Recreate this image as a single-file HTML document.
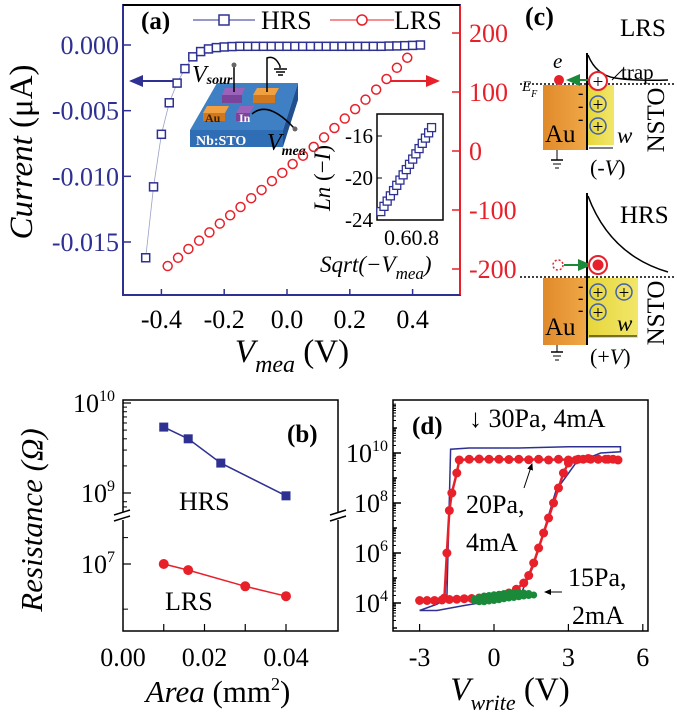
<!DOCTYPE html>
<html><head><meta charset="utf-8"><style>
html,body{margin:0;padding:0;background:#fff;width:677px;height:720px;overflow:hidden}
svg{display:block}
text{font-family:"Liberation Serif",serif}
</style></head><body>
<svg id="fig" width="677" height="720" viewBox="0 0 677 720" xmlns="http://www.w3.org/2000/svg">
<defs>
<linearGradient id="auG" x1="0" x2="1"><stop offset="0" stop-color="#e08a2a"/><stop offset="1" stop-color="#f0a848"/></linearGradient>
<linearGradient id="ylG" x1="0" x2="1"><stop offset="0" stop-color="#e6d63a"/><stop offset="1" stop-color="#f2e66a"/></linearGradient>
<marker id="ahB" markerWidth="8" markerHeight="8" refX="6" refY="4" orient="auto"><path d="M0,1 L7,4 L0,7 z" fill="#2e3192"/></marker>
<marker id="ahR" markerWidth="8" markerHeight="8" refX="6" refY="4" orient="auto"><path d="M0,1 L7,4 L0,7 z" fill="#e8202a"/></marker>
<marker id="ahG" markerWidth="8" markerHeight="8" refX="6" refY="4" orient="auto"><path d="M0,1 L7,4 L0,7 z" fill="#1a8a3a"/></marker>
<marker id="ahK" markerWidth="8" markerHeight="8" refX="6" refY="4" orient="auto"><path d="M0,1 L7,4 L0,7 z" fill="#000"/></marker>
</defs>

<g>
<rect x="123" y="5" width="337" height="290" fill="none" stroke="#2e3192" stroke-width="2"/>
<line x1="460" y1="5" x2="460" y2="295" stroke="#e8202a" stroke-width="2"/>
<line x1="123" y1="5" x2="460" y2="5" stroke="#000" stroke-width="2"/>
<line x1="123" y1="295" x2="460" y2="295" stroke="#2e3192" stroke-width="2"/>
<text x="141" y="29" font-size="25" font-weight="bold">(a)</text>
<g>
<line x1="193" y1="20" x2="255" y2="20" stroke="#2e3192" stroke-width="1"/>
<rect x="219" y="15" width="10" height="10" fill="#fff" stroke="#2e3192" stroke-width="1.5"/>
<text x="261" y="29" font-size="26">HRS</text></g>
<g>
<line x1="330" y1="20" x2="394" y2="20" stroke="#e8202a" stroke-width="1"/>
<circle cx="362" cy="20" r="5" fill="#fff" stroke="#e8202a" stroke-width="1.5"/>
<text x="394" y="29" font-size="26">LRS</text></g>
<line x1="175" y1="81" x2="131" y2="81" stroke="#2e3192" stroke-width="2" marker-end="url(#ahB)"/>
<line x1="390" y1="81" x2="438" y2="81" stroke="#e8202a" stroke-width="2" marker-end="url(#ahR)"/>
<text transform="translate(32,152) rotate(-90)" text-anchor="middle" font-size="33"><tspan font-style="italic">Current</tspan> (μA)</text>
<text x="292" y="362" text-anchor="middle" font-size="33"><tspan font-style="italic">V</tspan><tspan font-style="italic" font-size="24" dy="10">mea</tspan><tspan dy="-10"> (V)</tspan></text>
<g>
<polygon points="190,130 217,83 298,83 283,130" fill="#3f7fc4"/>
<polygon points="190,130 283,130 283,147 190,147" fill="#2f6eb5"/>
<polygon points="283,130 298,83 298,100 283,147" fill="#1f4f8f"/>
<polygon points="222,95 242,95 245,88 225,88" fill="#9a62b8"/><rect x="222" y="95" width="20" height="8" fill="#7a449a"/>
<polygon points="253,95 275,95 279,88 257,88" fill="#f0a040"/><rect x="253" y="95" width="22" height="8" fill="#d07820"/>
<polygon points="203,113 225,113 229,106 207,106" fill="#f0a040"/><rect x="203" y="113" width="22" height="8" fill="#d07820"/>
<polygon points="236,113 250,113 254,106 240,106" fill="#9a62b8"/><rect x="236" y="113" width="14" height="8" fill="#7a449a"/>
<text x="205" y="122" font-size="12" font-weight="bold" fill="#3a2000">Au</text>
<text x="239" y="122" font-size="12" font-weight="bold" fill="#fff">In</text>
<text x="196" y="145" font-size="14" font-weight="bold" fill="#fff">Nb:STO</text>
<line x1="234" y1="66" x2="234" y2="92" stroke="#000" stroke-width="1.5"/><circle cx="234" cy="65" r="2.5" fill="#666"/>
<path d="M267,92 L267,58 Q275,55 280,66 L280,68" fill="none" stroke="#000" stroke-width="1.5"/>
<line x1="274" y1="69" x2="287" y2="69" stroke="#000" stroke-width="1.5"/><line x1="276" y1="72" x2="285" y2="72" stroke="#000" stroke-width="1.5"/><line x1="278" y1="75" x2="283" y2="75" stroke="#000" stroke-width="1.5"/>
<path d="M252,114 Q268,100 294,128" fill="none" stroke="#000" stroke-width="1.5"/><circle cx="295" cy="129" r="2.5" fill="#666"/>
<text x="192" y="82" font-size="24" font-style="italic">V<tspan font-size="14" dy="2" font-weight="bold">sour</tspan></text>
<text x="267" y="150" font-size="24" font-style="italic">V<tspan font-size="14" dy="5" font-weight="bold">mea</tspan></text>
</g>
<rect x="377" y="114" width="66" height="106" fill="#fff" stroke="#000" stroke-width="1.5"/>
<g id="insetG"></g>
<text transform="translate(330,178) rotate(-90)" text-anchor="middle" font-size="23"><tspan font-style="italic">Ln</tspan> (−<tspan font-style="italic">I</tspan>)</text>
<text x="384" y="245" font-size="22">0.60.8</text>
<text x="320" y="272" font-size="23" font-style="italic">Sqrt(−V<tspan font-size="17" dy="7">mea</tspan><tspan dy="-7">)</tspan></text>
<g id="aG"></g>
</g>

<g>
<rect x="123" y="400" width="215" height="231" fill="none" stroke="#000" stroke-width="1.5"/>
<rect x="118" y="512" width="10" height="8" fill="#fff"/><rect x="333" y="512" width="10" height="8" fill="#fff"/>
<line x1="114" y1="515" x2="130" y2="510" stroke="#000" stroke-width="1.5"/>
<line x1="114" y1="521" x2="130" y2="516" stroke="#000" stroke-width="1.5"/>
<line x1="330" y1="515" x2="346" y2="510" stroke="#000" stroke-width="1.5"/>
<line x1="330" y1="521" x2="346" y2="516" stroke="#000" stroke-width="1.5"/>
<text x="287" y="442" font-size="25" font-weight="bold">(b)</text>
<text x="179" y="510" font-size="26">HRS</text>
<text x="165" y="610" font-size="26">LRS</text>
<text transform="translate(42,520) rotate(-90)" text-anchor="middle" font-size="31" font-style="italic">Resistance (Ω)</text>
<text x="218" y="702" text-anchor="middle" font-size="31"><tspan font-style="italic">Area</tspan> (mm<tspan font-size="18" dy="-12">2</tspan><tspan dy="12">)</tspan></text>
<g id="bG"></g>
</g>

<g>
<rect x="393" y="400" width="255" height="231" fill="none" stroke="#000" stroke-width="1.5"/>
<text x="412" y="434" font-size="25" font-weight="bold">(d)</text>
<text x="469" y="427" font-size="26">↓ 30Pa, 4mA</text>
<text x="466" y="513" font-size="26">20Pa,</text>
<text x="466" y="551" font-size="26">4mA</text>
<line x1="524" y1="488" x2="532" y2="464" stroke="#000" stroke-width="1" marker-end="url(#ahK)"/>
<text x="568" y="586" font-size="26">15Pa,</text>
<text x="572" y="624" font-size="26">2mA</text>
<line x1="562" y1="592" x2="545" y2="592" stroke="#000" stroke-width="1" marker-end="url(#ahK)"/>
<text x="510" y="700" text-anchor="middle" font-size="33"><tspan font-style="italic">V</tspan><tspan font-style="italic" font-size="22" dy="10">write</tspan><tspan dy="-10"> (V)</tspan></text>
<g id="dG"></g>
</g>

<g>
<text x="525" y="25" font-size="26" font-weight="bold">(c)</text>
<text x="620" y="36" font-size="25">LRS</text>
<text x="621" y="79" font-size="21">trap</text>
<line x1="612" y1="80" x2="622" y2="70" stroke="#000" stroke-width="1"/>
<rect x="543" y="85" width="44" height="65" fill="url(#auG)"/>
<rect x="587" y="85" width="27" height="60" fill="url(#ylG)"/>
<line x1="587" y1="53" x2="587" y2="150" stroke="#000" stroke-width="2"/>
<path d="M588,55 Q596,75 615,78 T668,80" fill="none" stroke="#000" stroke-width="1.5"/>
<line x1="520" y1="84" x2="674" y2="84" stroke="#000" stroke-width="1.5" stroke-dasharray="2,2"/>
<text x="522" y="91" font-size="15" font-style="italic">E<tspan font-size="10" dy="6">F</tspan></text>
<text x="553" y="68" font-size="21" font-style="italic">e</text>
<circle cx="559" cy="80" r="5" fill="#e8202a"/>
<line x1="590" y1="80" x2="568" y2="80" stroke="#1a8a3a" stroke-width="2" marker-end="url(#ahG)"/>
<circle cx="598" cy="81" r="9" fill="#fff" stroke="#e8202a" stroke-width="2"/><text x="598" y="88" text-anchor="middle" font-size="19">+</text>
<circle cx="598" cy="104" r="8" fill="none" stroke="#4060b0" stroke-width="1.5"/><text x="598" y="111" text-anchor="middle" font-size="19">+</text>
<circle cx="598" cy="126" r="8" fill="none" stroke="#4060b0" stroke-width="1.5"/><text x="598" y="133" text-anchor="middle" font-size="19">+</text>
<text x="578" y="98" font-size="16" font-weight="bold">-</text><text x="578" y="111" font-size="16" font-weight="bold">-</text><text x="578" y="124" font-size="16" font-weight="bold">-</text>
<text x="545" y="142" font-size="25">Au</text>
<text x="617" y="143" font-size="23" font-style="italic">w</text>
<line x1="589" y1="148" x2="613" y2="148" stroke="#000" stroke-width="1"/>
<text x="590" y="175" font-size="22">(-<tspan font-style="italic">V</tspan>)</text>
<text transform="translate(664,120) rotate(-90)" text-anchor="middle" font-size="25">NSTO</text>
<line x1="557" y1="150" x2="557" y2="160" stroke="#000"/><line x1="551" y1="160" x2="563" y2="160" stroke="#000" stroke-width="1.5"/><line x1="553" y1="164" x2="561" y2="164" stroke="#000"/><line x1="555" y1="168" x2="559" y2="168" stroke="#000"/>

<text x="620" y="223" font-size="25">HRS</text>
<rect x="543" y="278" width="44" height="67" fill="url(#auG)"/>
<rect x="587" y="278" width="51" height="60" fill="url(#ylG)"/>
<line x1="587" y1="193" x2="587" y2="345" stroke="#000" stroke-width="2"/>
<path d="M588,196 Q610,255 668,272" fill="none" stroke="#000" stroke-width="1.5"/>
<line x1="520" y1="277" x2="674" y2="277" stroke="#000" stroke-width="1.5" stroke-dasharray="2,2"/>
<circle cx="558" cy="265" r="5" fill="none" stroke="#e8202a" stroke-width="1.5" stroke-dasharray="2,2"/>
<line x1="564" y1="265" x2="590" y2="265" stroke="#1a8a3a" stroke-width="2" marker-end="url(#ahG)"/>
<circle cx="598" cy="265" r="9" fill="#fff" stroke="#e8202a" stroke-width="2"/><circle cx="598" cy="265" r="5.5" fill="#e8202a"/>
<circle cx="598" cy="292" r="8" fill="none" stroke="#4060b0" stroke-width="1.5"/><text x="598" y="299" text-anchor="middle" font-size="19">+</text>
<circle cx="624" cy="292" r="8" fill="none" stroke="#4060b0" stroke-width="1.5"/><text x="624" y="299" text-anchor="middle" font-size="19">+</text>
<circle cx="598" cy="312" r="8" fill="none" stroke="#4060b0" stroke-width="1.5"/><text x="598" y="319" text-anchor="middle" font-size="19">+</text>
<text x="578" y="291" font-size="16" font-weight="bold">-</text><text x="578" y="303" font-size="16" font-weight="bold">-</text><text x="578" y="315" font-size="16" font-weight="bold">-</text>
<text x="545" y="335" font-size="25">Au</text>
<text x="617" y="331" font-size="23" font-style="italic">w</text>
<line x1="589" y1="336" x2="637" y2="336" stroke="#000" stroke-width="1"/>
<text x="590" y="364" font-size="22">(+<tspan font-style="italic">V</tspan>)</text>
<text transform="translate(664,313) rotate(-90)" text-anchor="middle" font-size="25">NSTO</text>
<line x1="557" y1="345" x2="557" y2="352" stroke="#000"/><line x1="551" y1="352" x2="563" y2="352" stroke="#000" stroke-width="1.5"/><line x1="553" y1="356" x2="561" y2="356" stroke="#000"/><line x1="555" y1="360" x2="559" y2="360" stroke="#000"/>
</g>
</svg>
<script>
const aHrsX = [-0.45,-0.425,-0.40,-0.375,-0.35,-0.325,-0.30,-0.275,-0.25,-0.225,-0.20,-0.175,-0.15,-0.125,-0.10,-0.075,-0.05,-0.025,0,0.025,0.05,0.075,0.10,0.125,0.15,0.175,0.20,0.225,0.25,0.275,0.30,0.325,0.35,0.375,0.40,0.425];
const aHrsY = [-0.0162,-0.0108,-0.0068,-0.0044,-0.0029,-0.0018,-0.0009,-0.0005,-0.0003,-0.0002,-0.00015,-0.00012,-0.0001,-0.0001,-0.0001,-0.0001,-0.0001,-0.0001,-0.0001,-0.0001,-0.0001,-0.0001,-0.0001,-0.0001,-0.0001,-0.0001,-0.0001,-0.0001,-0.0001,-0.0001,-0.0001,-0.00008,-0.00007,-0.00005,-0.00003,0.0];
const aLrsX = [-0.38,-0.347,-0.314,-0.28,-0.247,-0.214,-0.181,-0.148,-0.114,-0.081,-0.048,-0.015,0.018,0.051,0.085,0.118,0.151,0.184,0.217,0.25,0.284,0.317,0.35,0.383];
const aLrsY = [-195,-181,-166,-152,-138,-123,-109,-95,-80,-66,-51,-37,-22,-8,7,23,39,55,71,87,104,122,141,158];
const aXTicks = [-0.4,-0.2,0.0,0.2,0.4];
const aXLabels = ["-0.4","-0.2","0.0","0.2","0.4"];
const aYLTicks = [0,-0.005,-0.010,-0.015];
const aYLLabels = ["0.000","-0.005","-0.010","-0.015"];
const aYRTicks = [200,100,0,-100,-200];
const aYRLabels = ["200","100","0","-100","-200"];
const insetX = [0.44,0.462,0.484,0.506,0.528,0.55,0.572,0.594,0.616,0.638,0.66,0.682,0.704,0.726,0.748,0.77,0.79];
const insetY = [-23.2,-22.7,-22.2,-21.7,-21.2,-20.7,-20.2,-19.7,-19.2,-18.7,-18.2,-17.7,-17.2,-16.7,-16.2,-15.7,-15.2];
const insetYTicks = [-16,-20,-24];
const insetYLabels = ["-16","-20","-24"];
const bHrsX = [0.01,0.016,0.024,0.04];
const bHrsY = [5.4e9,4.0e9,2.15e9,9.3e8];
const bLrsX = [0.01,0.016,0.03,0.04];
const bLrsY = [1.0e7,9.1e6,7.1e6,6.1e6];
const bXTicks = [0.00,0.02,0.04];
const bXLabels = ["0.00","0.02","0.04"];
const dBlueX = [-3,-2.3,-1.9,-1.75,-1.0,1.0,3.0,5.1,5.1,4.3,3.3,2.5,2.2,1.6,1.1,0.0,-1.2,-2.3,-3];
const dBlueY = [3.7,3.95,4.2,10.15,10.2,10.2,10.25,10.25,10.05,10.0,9.6,8.5,7.5,5.5,4.4,4.1,3.9,3.7,3.7];
const dRedX = [-3,-2.7,-2.4,-2.1,-1.8,-1.5,-1.2,-0.9,-0.6,-0.3,0,0.3,0.6,0.9,1.2,1.4,1.6,1.8,2.0,2.2,2.4,2.6,2.8,3.0,3.3,3.6,3.9,4.2,4.5,4.8,5.0,4.6,4.2,3.8,3.4,3.0,2.6,2.2,1.8,1.4,1.0,0.6,0.2,-0.2,-0.6,-1.0,-1.4,-1.5,-1.7,-1.8,-1.9,-2.0];
const dRedY = [4.1,4.1,4.1,4.12,4.14,4.15,4.17,4.18,4.2,4.22,4.25,4.3,4.4,4.55,4.8,5.1,5.6,6.2,6.8,7.4,8.0,8.6,9.2,9.6,9.72,9.75,9.75,9.75,9.75,9.75,9.72,9.75,9.75,9.78,9.75,9.72,9.75,9.72,9.75,9.73,9.75,9.74,9.75,9.75,9.76,9.75,9.72,9.2,8.4,7.7,6.0,4.2];
const dGreenX = [-0.8,-0.6,-0.4,-0.2,0,0.2,0.4,0.6,0.8,1.0,1.2,1.4,1.6,1.4,1.2,1.0,0.8,0.6,0.4,0.2,0,-0.2,-0.4,-0.6,-0.8];
const dGreenY = [4.1,4.05,4.05,4.08,4.1,4.13,4.17,4.2,4.22,4.25,4.28,4.3,4.32,4.38,4.4,4.42,4.42,4.4,4.38,4.35,4.33,4.3,4.28,4.22,4.15];
const dXTicks = [-3,0,3,6];
const dXLabels = ["-3","0","3","6"];
const dYTicks = [10,8,6,4];

const NS="http://www.w3.org/2000/svg";
function mk(tag,parent){const e=document.createElementNS(NS,tag);parent.appendChild(e);return e;}
function sa(e,o){for(const k in o)e.setAttribute(k,o[k]);return e;}
const BLUE="#2e3192",RED="#e8202a",GREEN="#1a8a3a";
const TF=26;

const axA = v=>287+v*314;
const ayL = v=>45+(-v)*13133;
const ayR = v=>151-v*0.59;
const ixS = v=>404+(v-0.6)*145;
const iyS = v=>136-(v+16)*10.5;
const bx = v=>123+v*4075;
const byH = v=>403+(10-Math.log10(v))*90;
const byL = v=>564+(7-Math.log10(v))*150;
const dx = v=>494+v*24.8;
const dy = v=>603-(v-4)*25;

const aG=document.getElementById('aG');
aXTicks.forEach((t,i)=>{
  const l=mk('line',aG);sa(l,{x1:axA(t),x2:axA(t),y1:295,y2:289,stroke:BLUE,'stroke-width':1.5});
  
  
  const tx=mk('text',aG);sa(tx,{x:axA(t),y:328,'text-anchor':'middle','font-size':TF});tx.textContent=aXLabels[i];
  
  
});
aYLTicks.forEach((t,i)=>{
  const l=mk('line',aG);sa(l,{x1:123,x2:131,y1:ayL(t),y2:ayL(t),stroke:BLUE,'stroke-width':1.5});
  
  
  const tx=mk('text',aG);sa(tx,{x:119,y:ayL(t)+9,'text-anchor':'end','font-size':TF,fill:BLUE});tx.textContent=aYLLabels[i];
  
  
});
aYRTicks.forEach((t,i)=>{
  const l=mk('line',aG);sa(l,{x1:460,x2:452,y1:ayR(t),y2:ayR(t),stroke:RED,'stroke-width':1.5});
  
  
  const tx=mk('text',aG);sa(tx,{x:469,y:ayR(t)+9,'font-size':TF,fill:RED});tx.textContent=aYRLabels[i];
  
  
});
{const p=mk('polyline',aG);sa(p,{points:aHrsX.map((x,i)=>axA(x)+','+ayL(aHrsY[i])).join(' '),fill:'none',stroke:'#9aa0c8','stroke-width':0.8});

}
aHrsX.forEach((x,i)=>{
  const r=mk('rect',aG);sa(r,{x:axA(x)-4,y:ayL(aHrsY[i])-4,width:8,height:8,fill:'#fff',stroke:BLUE,'stroke-width':1.5});
  
  
});
aLrsX.forEach((x,i)=>{
  const c=mk('circle',aG);sa(c,{cx:axA(x),cy:ayR(aLrsY[i]),r:4.5,fill:'none',stroke:RED,'stroke-width':1.5});
  
  
});
const iG=document.getElementById('insetG');
insetYTicks.forEach((t,i)=>{
  const l=mk('line',iG);sa(l,{x1:377,x2:382,y1:iyS(t),y2:iyS(t),stroke:'#000'});
  
  
  const tx=mk('text',iG);sa(tx,{x:373,y:iyS(t)+7,'text-anchor':'end','font-size':21});tx.textContent=insetYLabels[i];
  
  
});
insetX.forEach((x,i)=>{
  const r=mk('rect',iG);sa(r,{x:ixS(x)-4,y:iyS(insetY[i])-4,width:8,height:8,fill:'#fff',stroke:BLUE,'stroke-width':1.3});
  
  
});

const bG=document.getElementById('bG');
bXTicks.forEach((t,i)=>{
  const tx=mk('text',bG);sa(tx,{x:bx(t),y:666,'text-anchor':'middle','font-size':TF});tx.textContent=bXLabels[i];
  
  
});
[0.01,0.02,0.03,0.04].forEach(t=>{
  const l=mk('line',bG);sa(l,{x1:bx(t),x2:bx(t),y1:631,y2:624,stroke:'#000','stroke-width':1.2});
  
  
});
[1e10,1e9].forEach((t,i)=>{
  const y=byH(t);const l=mk('line',bG);sa(l,{x1:123,x2:131,y1:y,y2:y,stroke:'#000','stroke-width':1.2});
  
  
  const tx=mk('text',bG);sa(tx,{x:115,y:y+9,'text-anchor':'end','font-size':TF});tx.innerHTML=(i==0?'10<tspan font-size="16" dy="-11">10</tspan>':'10<tspan font-size="16" dy="-11">9</tspan>');
  
  
});
[2e9,3e9,4e9,5e9,6e9,7e9,8e9,9e9,8e8,7e8].forEach(t=>{
  const y=byH(t);const l=mk('line',bG);sa(l,{x1:123,x2:127,y1:y,y2:y,stroke:'#000'});
  
  
});
{const y=byL(1e7);const l=mk('line',bG);sa(l,{x1:123,x2:131,y1:y,y2:y,stroke:'#000','stroke-width':1.2});


const tx=mk('text',bG);sa(tx,{x:115,y:y+9,'text-anchor':'end','font-size':TF});tx.innerHTML='10<tspan font-size="16" dy="-11">7</tspan>';

}
[1.5e7,5e6].forEach(t=>{const y=byL(t);const l=mk('line',bG);sa(l,{x1:123,x2:128,y1:y,y2:y,stroke:'#000'});

});
{const p=mk('polyline',bG);sa(p,{points:bHrsX.map((x,i)=>bx(x)+','+byH(bHrsY[i])).join(' '),fill:'none',stroke:BLUE,'stroke-width':1.5});

}
bHrsX.forEach((x,i)=>{const r=mk('rect',bG);sa(r,{x:bx(x)-4.5,y:byH(bHrsY[i])-4.5,width:9,height:9,fill:BLUE});

});
{const p=mk('polyline',bG);sa(p,{points:bLrsX.map((x,i)=>bx(x)+','+byL(bLrsY[i])).join(' '),fill:'none',stroke:RED,'stroke-width':1.5});

}
bLrsX.forEach((x,i)=>{const c=mk('circle',bG);sa(c,{cx:bx(x),cy:byL(bLrsY[i]),r:5,fill:RED});

});

const dG=document.getElementById('dG');
dXTicks.forEach((t,i)=>{
  const l=mk('line',dG);sa(l,{x1:dx(t),x2:dx(t),y1:631,y2:624,stroke:'#000','stroke-width':1.2});
  
  
  const tx=mk('text',dG);sa(tx,{x:dx(t),y:666,'text-anchor':'middle','font-size':TF});tx.textContent=dXLabels[i];
  
  
});
for(let e=3;e<=11;e++){
  const y=dy(e);if(y<402||y>629)continue;
  const l=mk('line',dG);sa(l,{x1:393,x2:(e%2==0?401:397),y1:y,y2:y,stroke:'#000','stroke-width':1.5});
  
  
  for(let m=2;m<10;m++){const ym=dy(e+Math.log10(m));if(ym<402||ym>629)continue;
    const lm=mk('line',dG);sa(lm,{x1:393,x2:396,y1:ym,y2:ym,stroke:'#000','stroke-width':1});
    
    }
}
dYTicks.forEach(t=>{
  const tx=mk('text',dG);sa(tx,{x:388,y:dy(t)+9,'text-anchor':'end','font-size':TF});tx.innerHTML='10<tspan font-size="16" dy="-11">'+t+'</tspan>';
  
  
});
{const p=mk('polyline',dG);sa(p,{points:dBlueX.map((x,i)=>dx(x)+','+dy(dBlueY[i])).join(' '),fill:'none',stroke:BLUE,'stroke-width':1.5});

}
{const p=mk('polyline',dG);sa(p,{points:dRedX.map((x,i)=>dx(x)+','+dy(dRedY[i])).join(' '),fill:'none',stroke:RED,'stroke-width':2.5});

}
dRedX.forEach((x,i)=>{const c=mk('circle',dG);sa(c,{cx:dx(x),cy:dy(dRedY[i]),r:4.5,fill:RED});

});
dGreenX.forEach((x,i)=>{const c=mk('circle',dG);sa(c,{cx:dx(x),cy:dy(dGreenY[i]),r:3.5,fill:GREEN});

});
</script>
</body></html>
